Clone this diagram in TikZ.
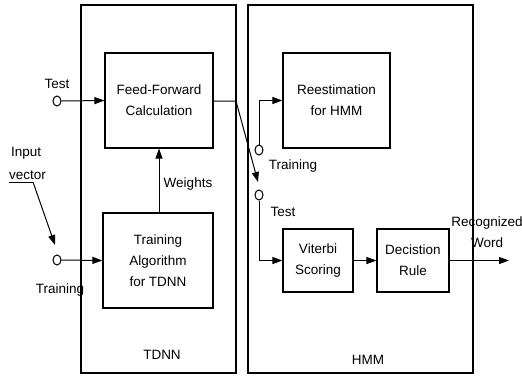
\documentclass[tikz,border=0pt]{standalone}
\usepackage{fontspec}
\setmainfont{Liberation Sans}
\usetikzlibrary{arrows.meta,shapes.geometric}
\begin{document}
\begin{tikzpicture}[x=1pt,y=-1pt,
  every node/.style={font=\fontsize{13.5}{21}\selectfont, inner sep=0pt},
  frame/.style={draw, line width=1.1pt},
  block/.style={draw, line width=1.1pt, align=center},
  switch/.style={draw, line width=1pt, ellipse, minimum width=8pt, minimum height=10pt},
  lbl/.style={align=center},
  flow/.style={line width=1pt, -{Triangle[length=10pt,width=7pt]}},
  wire/.style={line width=1pt}]
\useasboundingbox (0,0) rectangle (522,376);

% outer frames
\node[frame, minimum width=155pt, minimum height=368pt] (tdnn) at (158.5,189) {};
\node[frame, minimum width=225pt, minimum height=368pt] (hmm) at (360.5,189) {};
\node[lbl] (tdnnlbl) at (162,355) {TDNN};
\node[lbl] (hmmlbl) at (368,360) {HMM};

% TDNN blocks
\node[block, minimum width=108pt, minimum height=95pt] (ff) at (159,100.5) {Feed-Forward\\Calculation};
\node[block, minimum width=110pt, minimum height=95pt] (ta) at (158,260.5) {Training\\Algorithm\\for TDNN};

% HMM blocks
\node[block, minimum width=107pt, minimum height=95pt] (re) at (336.5,100.5) {Reestimation\\for HMM};
\node[block, minimum width=70pt, minimum height=63pt] (vit) at (318,260.5) {Viterbi\\Scoring};
\node[block, minimum width=72pt, minimum height=63pt] (dec) at (413,260.5) {Decistion\\Rule};

% switch contacts
\node[switch] (ctest) at (57,101) {};
\node[switch] (ctrain) at (57,260) {};
\node[switch] (chtrain) at (259,150) {};
\node[switch] (chtest) at (259,195) {};

% labels
\node[lbl] (ltest) at (57,84) {Test};
\node[lbl] (ltrain) at (60,290) {Training};
\node[lbl, anchor=west] (linput) at (11,153) {Input};
\node[lbl, anchor=west] (lvector) at (9,175) {vector};
\node[lbl] (lweights) at (188,184) {Weights};
\node[lbl] (lhtrain) at (293,166) {Training};
\node[lbl] (lhtest) at (283,212) {Test};
\node[lbl] (lword) at (487,232) {Recognized\\Word};

% connectors
\draw[flow] (ctest.east) -- (ff.west);
\draw[flow] (ctrain.east) -- (ta.west);
\coordinate (wfrom) at (159,213);
\draw[flow] (wfrom) -- (wfrom |- ff.south);

\coordinate (bend) at (236,101);
\coordinate (swtip) at (258,182);
\draw[flow] (ff.east |- bend) -- (bend) -- (swtip);

\draw[flow] (chtrain.north) |- (re.west);
\draw[flow] (chtest.south) |- (vit.west);
\draw[flow] (vit.east) -- (dec.west);
\coordinate (out) at (509,260.5);
\draw[flow] (dec.east) -- (out);

% input vector pointer
\coordinate (ulstart) at (9,182);
\coordinate (ulend) at (33,182);
\draw[wire] (ulstart) -- (ulend);
\coordinate (intip) at (55,245);
\draw[flow] (ulend) -- (intip);
\end{tikzpicture}
\end{document}
